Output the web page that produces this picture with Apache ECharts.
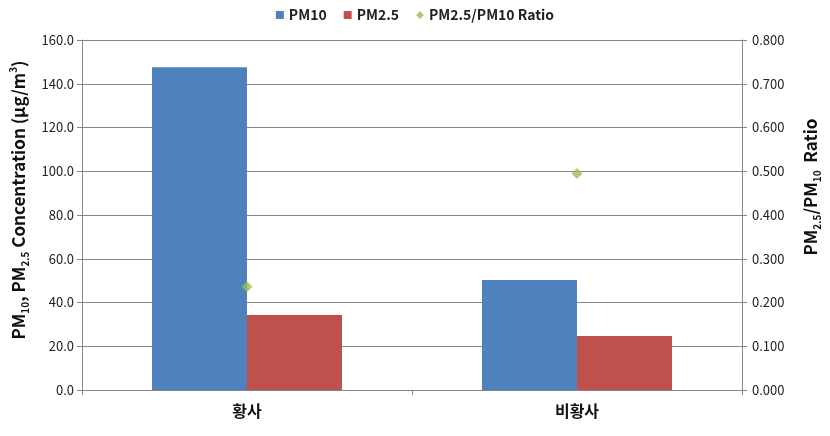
<!DOCTYPE html>
<html><head><meta charset="utf-8">
<script src="https://cdn.jsdelivr.net/npm/echarts@6/dist/echarts.min.js"></script>
<style>html,body{margin:0;padding:0;background:#fff}#c{width:830px;height:436px}</style>
</head><body><div id="c"></div>
<script>
const categories = ['황사', '비황사'];
const pm10 = [147.6, 50.3];
const pm25 = [34.3, 24.7];
const ratio = [0.236, 0.495];
const leftTicks = [0, 20, 40, 60, 80, 100, 120, 140, 160];
const rightTicks = [0, 0.1, 0.2, 0.3, 0.4, 0.5, 0.6, 0.7, 0.8];

const FONT = '"Noto Sans CJK KR", "Open Sans", sans-serif';
const chart = echarts.init(document.getElementById('c'));
const gridColor = '#868686';
chart.setOption({
  animation: false,
  textStyle: {fontFamily: FONT},
  legend: {
    top: 3, left: 'center', itemWidth: 8, itemHeight: 8, itemGap: 17,
    textStyle: {fontFamily: FONT, fontWeight: 'bold', fontSize: 14, color: '#222', padding: [0, 0, 0, 0]},
    data: [{name: 'PM10', icon: 'rect'}, {name: 'PM2.5', icon: 'rect'}, {name: 'PM2.5/PM10 Ratio', icon: 'diamond'}]
  },
  grid: {left: 79, right: 79, top: 40, bottom: 46},
  xAxis: {
    type: 'category', data: categories,
    axisLine: {lineStyle: {color: gridColor}},
    axisTick: {show: true, length: 5, lineStyle: {color: gridColor}},
    axisLabel: {fontFamily: FONT, fontWeight: 'bold', fontSize: 16, color: '#111', margin: 13}
  },
  yAxis: [{
    type: 'value', min: 0, max: 160, interval: 20,
    axisLine: {show: true, lineStyle: {color: gridColor}},
    axisTick: {show: true, length: 5, lineStyle: {color: gridColor}},
    splitLine: {lineStyle: {color: gridColor, width: 1}},
    axisLabel: {fontSize: 13, color: '#222', margin: 8, formatter: v => v.toFixed(1)},
    name: '{a|PM}{s|10}{a|, PM}{s|2.5}{a| Concentration (μg/m}{p|3}{a|)}',
    nameLocation: 'middle', nameRotate: 90, nameGap: 52,
    nameTextStyle: {
      padding: [0, 0, 0, 30],
      rich: {
        a: {fontFamily: FONT, fontWeight: 'bold', fontSize: 17, color: '#111', lineHeight: 22},
        s: {fontFamily: FONT, fontWeight: 'bold', fontSize: 10, color: '#111', lineHeight: 22, verticalAlign: 'bottom', padding: [9, 0, 0, 0]},
        p: {fontFamily: FONT, fontWeight: 'bold', fontSize: 10, color: '#111', lineHeight: 22, verticalAlign: 'top', padding: [0, 0, 9, 0]}
      }
    }
  }, {
    type: 'value', min: 0, max: 0.8, interval: 0.1, position: 'right',
    axisLine: {show: true, lineStyle: {color: gridColor}},
    axisTick: {show: true, length: 5, lineStyle: {color: gridColor}},
    splitLine: {show: false},
    axisLabel: {fontSize: 13, color: '#222', margin: 10, formatter: v => v.toFixed(3)},
    name: '{a|PM}{s|2.5}{a|/PM}{s|10}{a|  Ratio}',
    nameLocation: 'middle', nameRotate: 90, nameGap: 58,
    nameTextStyle: {
      padding: [0, 0, 0, 56],
      rich: {
        a: {fontFamily: FONT, fontWeight: 'bold', fontSize: 17, color: '#111', lineHeight: 22},
        s: {fontFamily: FONT, fontWeight: 'bold', fontSize: 10, color: '#111', lineHeight: 22, verticalAlign: 'bottom', padding: [9, 0, 0, 0]}
      }
    }
  }],
  series: [
    {name: 'PM10', type: 'bar', data: pm10, barWidth: 95, barGap: '0%', itemStyle: {color: '#4F81BD'}},
    {name: 'PM2.5', type: 'bar', data: pm25, barWidth: 95, barGap: '0%', itemStyle: {color: '#C0504D'}},
    {name: 'PM2.5/PM10 Ratio', type: 'scatter', yAxisIndex: 1, data: ratio, symbol: 'diamond', symbolSize: 11, itemStyle: {color: '#9BBB59'}, z: 5}
  ]
});
</script></body></html>
